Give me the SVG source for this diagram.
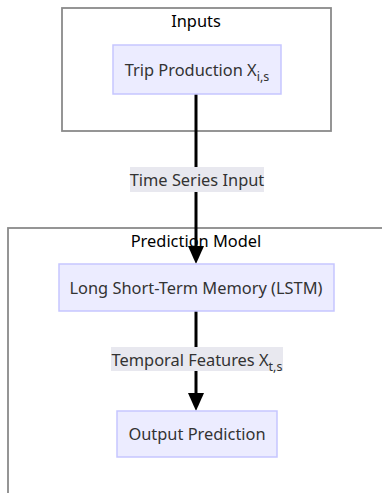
<svg xmlns="http://www.w3.org/2000/svg" width="382" height="493" viewBox="0 0 382 493">
<defs>
<style>
text{font-family:"Noto Sans","Open Sans","DejaVu Sans",sans-serif;font-size:16.4px;fill:#333;text-anchor:middle}
.cluster{fill:#fff;stroke:#8a8a8a;stroke-width:1.8}
.node{fill:#ECECFF;stroke:#c6c6ff;stroke-width:1.5}
.lbl{fill:#e8e8ef}
.edge{stroke:#000;stroke-width:3;fill:none}
.head{fill:#000}
.title{fill:#000}
</style>
</defs>
<g id="cluster-inputs">
<rect class="cluster" x="62" y="8" width="269" height="123"/>
<text class="title" x="196" y="27">Inputs</text>
</g>
<g id="cluster-prediction">
<rect class="cluster" x="8" y="228" width="380" height="270"/>
<text class="title" x="196" y="247">Prediction Model</text>
</g>
<g id="edges">
<path class="edge" d="M196,94 V248"/>
<path class="head" d="M188,246 L204,246 L196,264 z"/>
<path class="edge" d="M196,311 V395"/>
<path class="head" d="M188,393 L204,393 L196,411 z"/>
<rect class="lbl" x="130" y="167" width="134" height="25"/>
<text x="197" y="186">Time Series Input</text>
<rect class="lbl" x="111" y="347" width="172" height="24"/>
<text x="197" y="366">Temporal Features X<tspan font-size="12.5" dy="5">t,s</tspan></text>
</g>
<g id="node-trip">
<rect class="node" x="113" y="45" width="168" height="49"/>
<text x="197" y="76">Trip Production X<tspan font-size="12.5" dy="5">i,s</tspan></text>
</g>
<g id="node-lstm">
<rect class="node" x="59" y="264" width="275" height="47"/>
<text x="196" y="294">Long Short-Term Memory (LSTM)</text>
</g>
<g id="node-output">
<rect class="node" x="117" y="411" width="160" height="46"/>
<text x="197" y="440">Output Prediction</text>
</g>
</svg>
